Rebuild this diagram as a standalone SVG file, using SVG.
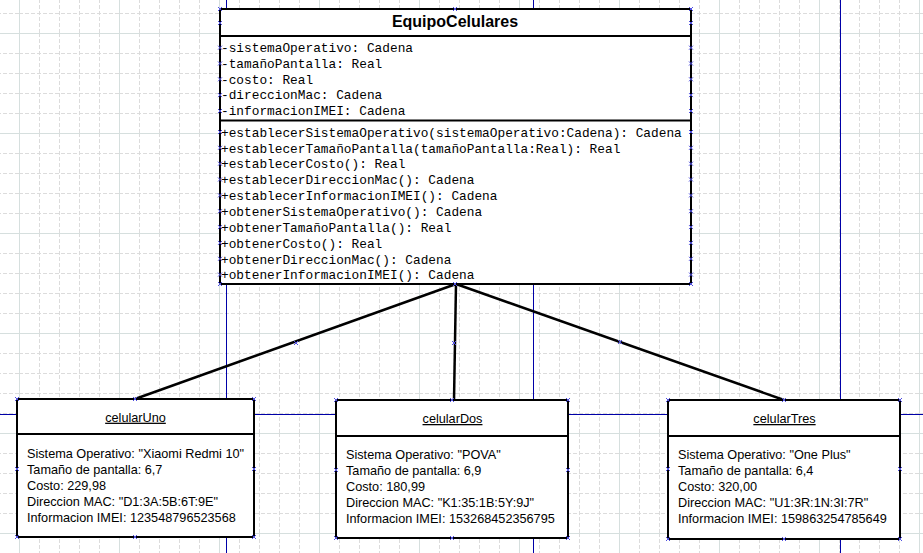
<svg xmlns="http://www.w3.org/2000/svg" xmlns:xlink="http://www.w3.org/1999/xlink" width="923" height="553" viewBox="0 0 923 553">
<style>
.box{fill:#fff;stroke:#000;stroke-width:2}
.div{stroke:#000;stroke-width:2}
.mono{font-family:"Liberation Mono","Courier New",monospace;font-size:12.8px;fill:#000}
.sans{font-family:"Liberation Sans",Arial,sans-serif;font-size:12.7px;fill:#000}
.title{font-family:"Liberation Sans",Arial,sans-serif;font-size:16px;font-weight:bold;fill:#000}
.obj{font-family:"Liberation Sans",Arial,sans-serif;font-size:12.7px;fill:#000;text-decoration:underline}
.conn{stroke:#000;stroke-width:2.5;fill:none}
.page{stroke:#0000a8;stroke-width:1}
.h{fill:none;stroke:#5050e0;stroke-width:1}
</style>
<defs>
<pattern id="grid" x="19" y="33" width="100" height="100" patternUnits="userSpaceOnUse">
<path d="M20.5 0V100M40.5 0V100M60.5 0V100M80.5 0V100M0 20.5H100M0 40.5H100M0 60.5H100M0 80.5H100" stroke="#dcdcdc" stroke-dasharray="4 2" fill="none"/>
<path d="M0.5 0V100M0 0.5H100" stroke="#d6dfde" fill="none"/>
</pattern>
<path id="x" class="h" d="M-2 -2L2 2M-2 2L2 -2"/>
</defs>
<rect width="923" height="553" fill="#fff"/>
<rect width="923" height="553" fill="url(#grid)"/>
<g id="pages">
<path class="page" d="M226.5 0V553M533.5 0V553M840.5 0V553M0 414.5H923"/>
</g>
<g id="connectors">
<path class="conn" d="M456 284L135 399"/>
<path class="conn" d="M456 284L454 400"/>
<path class="conn" d="M456 284L784 400"/>
<use xlink:href="#x" x="296" y="343"/>
<use xlink:href="#x" x="454" y="343"/>
<use xlink:href="#x" x="620" y="342"/>
</g>
<g id="EquipoCelulares">
<rect class="box" x="220" y="9" width="471" height="275"/>
<line class="div" x1="220" y1="36" x2="691" y2="36"/>
<line class="div" x1="220" y1="120.5" x2="691" y2="120.5"/>
<text class="title" x="455" y="27" text-anchor="middle">EquipoCelulares</text>
<text class="mono" x="221" y="52">-sistemaOperativo: Cadena</text>
<text class="mono" x="221" y="67.8">-tamañoPantalla: Real</text>
<text class="mono" x="221" y="83.6">-costo: Real</text>
<text class="mono" x="221" y="99.4">-direccionMac: Cadena</text>
<text class="mono" x="221" y="115.2">-informacionIMEI: Cadena</text>
<text class="mono" x="221" y="136.7">+establecerSistemaOperativo(sistemaOperativo:Cadena): Cadena</text>
<text class="mono" x="221" y="152.5">+establecerTamañoPantalla(tamañoPantalla:Real): Real</text>
<text class="mono" x="221" y="168.4">+establecerCosto(): Real</text>
<text class="mono" x="221" y="184.2">+establecerDireccionMac(): Cadena</text>
<text class="mono" x="221" y="200.1">+establecerInformacionIMEI(): Cadena</text>
<text class="mono" x="221" y="215.9">+obtenerSistemaOperativo(): Cadena</text>
<text class="mono" x="221" y="231.8">+obtenerTamañoPantalla(): Real</text>
<text class="mono" x="221" y="247.6">+obtenerCosto(): Real</text>
<text class="mono" x="221" y="263.5">+obtenerDireccionMac(): Cadena</text>
<text class="mono" x="221" y="279.3">+obtenerInformacionIMEI(): Cadena</text>
<use xlink:href="#x" x="220" y="9"/><use xlink:href="#x" x="455" y="9"/><use xlink:href="#x" x="691" y="9"/>
<use xlink:href="#x" x="220" y="23"/><use xlink:href="#x" x="691" y="23"/>
<use xlink:href="#x" x="220" y="47.7"/><use xlink:href="#x" x="691" y="47.7"/>
<use xlink:href="#x" x="220" y="63.5"/><use xlink:href="#x" x="691" y="63.5"/>
<use xlink:href="#x" x="220" y="79.3"/><use xlink:href="#x" x="691" y="79.3"/>
<use xlink:href="#x" x="220" y="95.1"/><use xlink:href="#x" x="691" y="95.1"/>
<use xlink:href="#x" x="220" y="111"/><use xlink:href="#x" x="691" y="111"/>
<use xlink:href="#x" x="220" y="132"/><use xlink:href="#x" x="691" y="132"/>
<use xlink:href="#x" x="220" y="147.8"/><use xlink:href="#x" x="691" y="147.8"/>
<use xlink:href="#x" x="220" y="163.7"/><use xlink:href="#x" x="691" y="163.7"/>
<use xlink:href="#x" x="220" y="179.5"/><use xlink:href="#x" x="691" y="179.5"/>
<use xlink:href="#x" x="220" y="195.4"/><use xlink:href="#x" x="691" y="195.4"/>
<use xlink:href="#x" x="220" y="211.2"/><use xlink:href="#x" x="691" y="211.2"/>
<use xlink:href="#x" x="220" y="227.1"/><use xlink:href="#x" x="691" y="227.1"/>
<use xlink:href="#x" x="220" y="242.9"/><use xlink:href="#x" x="691" y="242.9"/>
<use xlink:href="#x" x="220" y="258.8"/><use xlink:href="#x" x="691" y="258.8"/>
<use xlink:href="#x" x="220" y="274.6"/><use xlink:href="#x" x="691" y="274.6"/>
<use xlink:href="#x" x="220" y="284"/><use xlink:href="#x" x="455" y="284"/><use xlink:href="#x" x="691" y="284"/>
</g>
<g id="celularUno">
<rect class="box" x="17" y="399" width="237" height="138"/>
<line class="div" x1="17" y1="434" x2="254" y2="434"/>
<text class="obj" x="135.5" y="421.7" text-anchor="middle">celularUno</text>
<text class="sans" x="27" y="457.7">Sistema Operativo: "Xiaomi Redmi 10"</text>
<text class="sans" x="27" y="473.7">Tamaño de pantalla: 6,7</text>
<text class="sans" x="27" y="489.7">Costo: 229,98</text>
<text class="sans" x="27" y="505.7">Direccion MAC: "D1:3A:5B:6T:9E"</text>
<text class="sans" x="27" y="521.7">Informacion IMEI: 123548796523568</text>
<use xlink:href="#x" x="17" y="399"/><use xlink:href="#x" x="135" y="399"/><use xlink:href="#x" x="254" y="399"/>
<use xlink:href="#x" x="17" y="469"/><use xlink:href="#x" x="254" y="469"/>
<use xlink:href="#x" x="17" y="537"/><use xlink:href="#x" x="135" y="537"/><use xlink:href="#x" x="254" y="537"/>
</g>
<g id="celularDos">
<rect class="box" x="336" y="400" width="232" height="138"/>
<line class="div" x1="336" y1="436" x2="568" y2="436"/>
<text class="obj" x="452.5" y="423" text-anchor="middle">celularDos</text>
<text class="sans" x="346" y="459">Sistema Operativo: "POVA"</text>
<text class="sans" x="346" y="475">Tamaño de pantalla: 6,9</text>
<text class="sans" x="346" y="491">Costo: 180,99</text>
<text class="sans" x="346" y="507">Direccion MAC: "K1:35:1B:5Y:9J"</text>
<text class="sans" x="346" y="523">Informacion IMEI: 153268452356795</text>
<use xlink:href="#x" x="336" y="400"/><use xlink:href="#x" x="452" y="400"/><use xlink:href="#x" x="568" y="400"/>
<use xlink:href="#x" x="336" y="470"/><use xlink:href="#x" x="568" y="470"/>
<use xlink:href="#x" x="336" y="538"/><use xlink:href="#x" x="452" y="538"/><use xlink:href="#x" x="568" y="538"/>
</g>
<g id="celularTres">
<rect class="box" x="668" y="400" width="232" height="139"/>
<line class="div" x1="668" y1="436" x2="900" y2="436"/>
<text class="obj" x="784.5" y="423" text-anchor="middle">celularTres</text>
<text class="sans" x="678" y="459">Sistema Operativo: "One Plus"</text>
<text class="sans" x="678" y="475">Tamaño de pantalla: 6,4</text>
<text class="sans" x="678" y="491">Costo: 320,00</text>
<text class="sans" x="678" y="507">Direccion MAC: "U1:3R:1N:3I:7R"</text>
<text class="sans" x="678" y="523">Informacion IMEI: 159863254785649</text>
<use xlink:href="#x" x="668" y="400"/><use xlink:href="#x" x="784" y="400"/><use xlink:href="#x" x="900" y="400"/>
<use xlink:href="#x" x="668" y="469"/><use xlink:href="#x" x="900" y="469"/>
<use xlink:href="#x" x="668" y="539"/><use xlink:href="#x" x="784" y="539"/><use xlink:href="#x" x="900" y="539"/>
</g>
</svg>
